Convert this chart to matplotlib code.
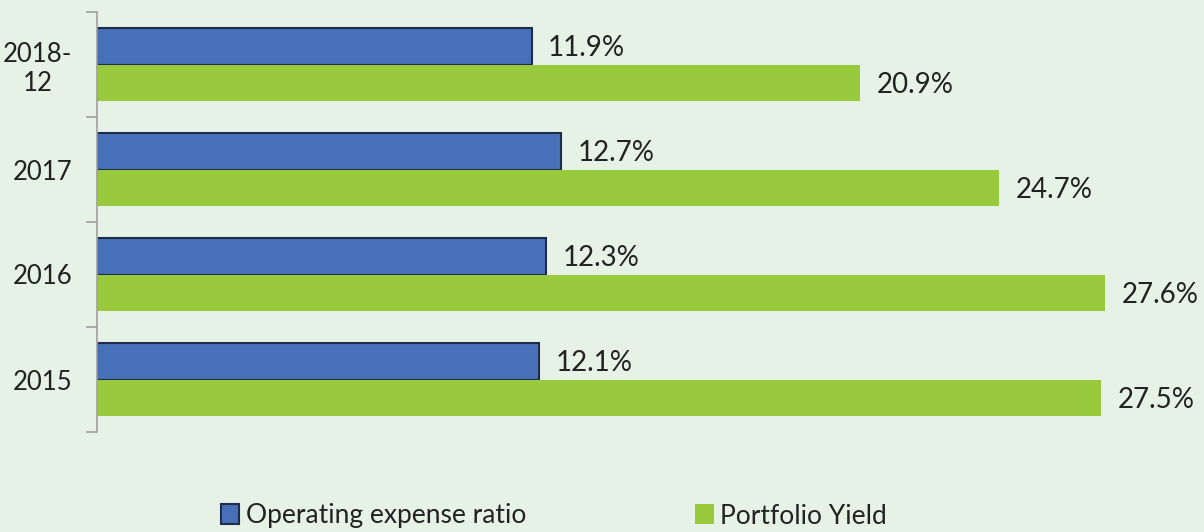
import numpy as np
import matplotlib.pyplot as plt
from matplotlib.patches import Patch

categories = ["2018-\n12", "2017", "2016", "2015"]
opex_ratio = [11.9, 12.7, 12.3, 12.1]
portfolio_yield = [20.9, 24.7, 27.6, 27.5]

bg = "#e7f2e7"
blue = "#4770b8"
blue_edge = "#1f2d4a"
green = "#99c93c"

plt.rcParams["font.family"] = ["Lato", "DejaVu Sans"]

fig = plt.figure(figsize=(12.04, 5.32), dpi=100, facecolor=bg)
ax = fig.add_axes([97 / 1204, 1 - 432 / 532, 1107 / 1204, 420 / 532])
ax.set_facecolor(bg)

y = np.arange(len(categories))
h = 0.35
b1 = ax.barh(y - h / 2, opex_ratio, height=h, color=blue, edgecolor=blue_edge, linewidth=1.5)
b2 = ax.barh(y + h / 2, portfolio_yield, height=h, color=green, edgecolor="none")

for bars, vals in ((b1, opex_ratio), (b2, portfolio_yield)):
    for bar, v in zip(bars, vals):
        ax.text(v + 0.45, bar.get_y() + bar.get_height() / 2 + 0.02, f"{v}%",
                va="center", ha="left", fontsize=20, color="#222222")

ax.set_xlim(0, 1107 / 36.52)
ax.set_ylim(len(categories) - 0.5, -0.5)
ax.set_yticks(y)
ax.set_yticklabels(categories, fontsize=18.5, color="#222222", multialignment="center")
ax.set_yticks(np.arange(-0.5, len(categories), 1), minor=True)
ax.tick_params(axis="y", which="major", length=0, pad=18)
ax.tick_params(axis="y", which="minor", length=8, color="#a0a0a0", width=1.2)
ax.set_xticks([])
for s in ("top", "right", "bottom"):
    ax.spines[s].set_visible(False)
ax.spines["left"].set_color("#a0a0a0")
ax.spines["left"].set_linewidth(1.2)

handles = [Patch(facecolor=blue, edgecolor=blue_edge, linewidth=1.5),
           Patch(facecolor=green, edgecolor="none")]
fig.legend(handles, ["Operating expense ratio", "Portfolio Yield"], loc="center left",
           bbox_to_anchor=(221 / 1204, 1 - 516 / 532), ncol=2, frameon=False,
           fontsize=19, handlelength=0.7, handleheight=0.8, handletextpad=0.25,
           columnspacing=6.4, labelcolor="#222222", borderaxespad=0, borderpad=0)

fig.savefig("out.png", dpi=100, facecolor=bg)
